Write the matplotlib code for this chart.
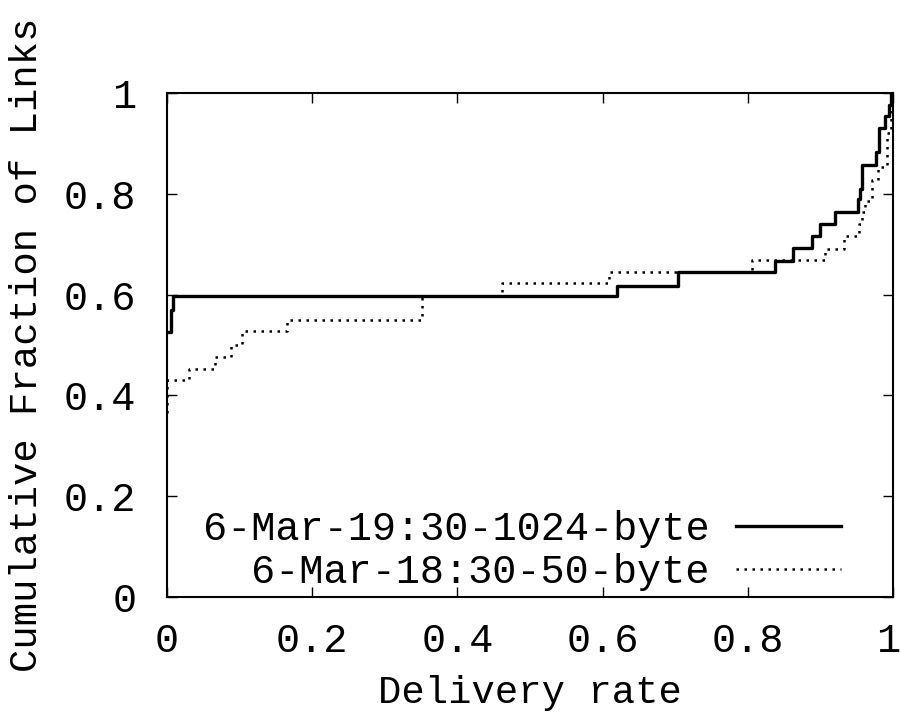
import matplotlib
matplotlib.use("Agg")
import matplotlib.pyplot as plt
import matplotlib.transforms as mtransforms

# step CDFs (x = delivery rate, y = cumulative fraction)
rate_1024 = [0.0, 0.005, 0.008, 0.62, 0.704, 0.838, 0.863, 0.889, 0.90, 0.92,
             0.952, 0.955, 0.957, 0.977, 0.981, 0.989, 0.994, 0.997, 1.0]
frac_1024 = [0.525, 0.57, 0.597, 0.618, 0.645, 0.666, 0.692, 0.717, 0.74, 0.763,
             0.79, 0.81, 0.857, 0.882, 0.93, 0.954, 0.976, 1.0, 1.0]

rate_50 = [0.0, 0.0, 0.03, 0.066, 0.088, 0.104, 0.166, 0.351, 0.461, 0.609,
           0.806, 0.906, 0.932, 0.953, 0.957, 0.962, 0.971, 0.98, 0.992, 0.997, 1.0]
frac_50 = [0.365, 0.43, 0.453, 0.477, 0.499, 0.527, 0.549, 0.597, 0.622, 0.645,
           0.668, 0.691, 0.716, 0.74, 0.763, 0.785, 0.828, 0.854, 0.921, 1.0, 1.0]

labels = ["6-Mar-19:30-1024-byte", "6-Mar-18:30-50-byte"]
ticks = [0, 0.2, 0.4, 0.6, 0.8, 1]
tick_labels = ["0", "0.2", "0.4", "0.6", "0.8", "1"]

plt.rcParams["font.family"] = ["Liberation Mono", "DejaVu Sans Mono"]
FS = 29

fig = plt.figure(figsize=(9.01, 7.17), dpi=100)
ax = fig.add_axes([0.1853, 0.1674, 0.991 - 0.1853, 0.8703 - 0.1674])

ax.step(rate_1024, frac_1024, where="post", color="black", lw=2.4, label=labels[0])
ax.step(rate_50, frac_50, where="post", color="black", lw=1.8,
        linestyle=(0, (1, 2.2)), label=labels[1])

ax.set_xlim(0, 1)
ax.set_ylim(0, 1)
ax.set_xticks(ticks)
ax.set_xticklabels(tick_labels)
ax.set_yticks(ticks)
ax.set_yticklabels(tick_labels)
ax.tick_params(direction="in", length=7, width=1.0, top=True, right=True,
               labelsize=FS, pad=18)
ax.tick_params(axis="y", pad=22)
for s in ax.spines.values():
    s.set_linewidth(1.5)

# keep the last x tick label inside the canvas
last = ax.get_xticklabels()[-1]
last.set_transform(last.get_transform() +
                   mtransforms.ScaledTranslation(-5 / 100, 0, fig.dpi_scale_trans))

ax.set_xlabel("Delivery rate", fontsize=28, labelpad=11)
ax.set_ylabel("Cumulative Fraction of Links", fontsize=28, labelpad=14)

leg = ax.legend(loc="lower right", bbox_to_anchor=(0.928, 0.012), frameon=False,
                markerfirst=False, fontsize=FS, handlelength=2.6,
                handletextpad=0.65, labelspacing=0.12, borderaxespad=0, borderpad=0)

fig.savefig("out.png", dpi=100)
